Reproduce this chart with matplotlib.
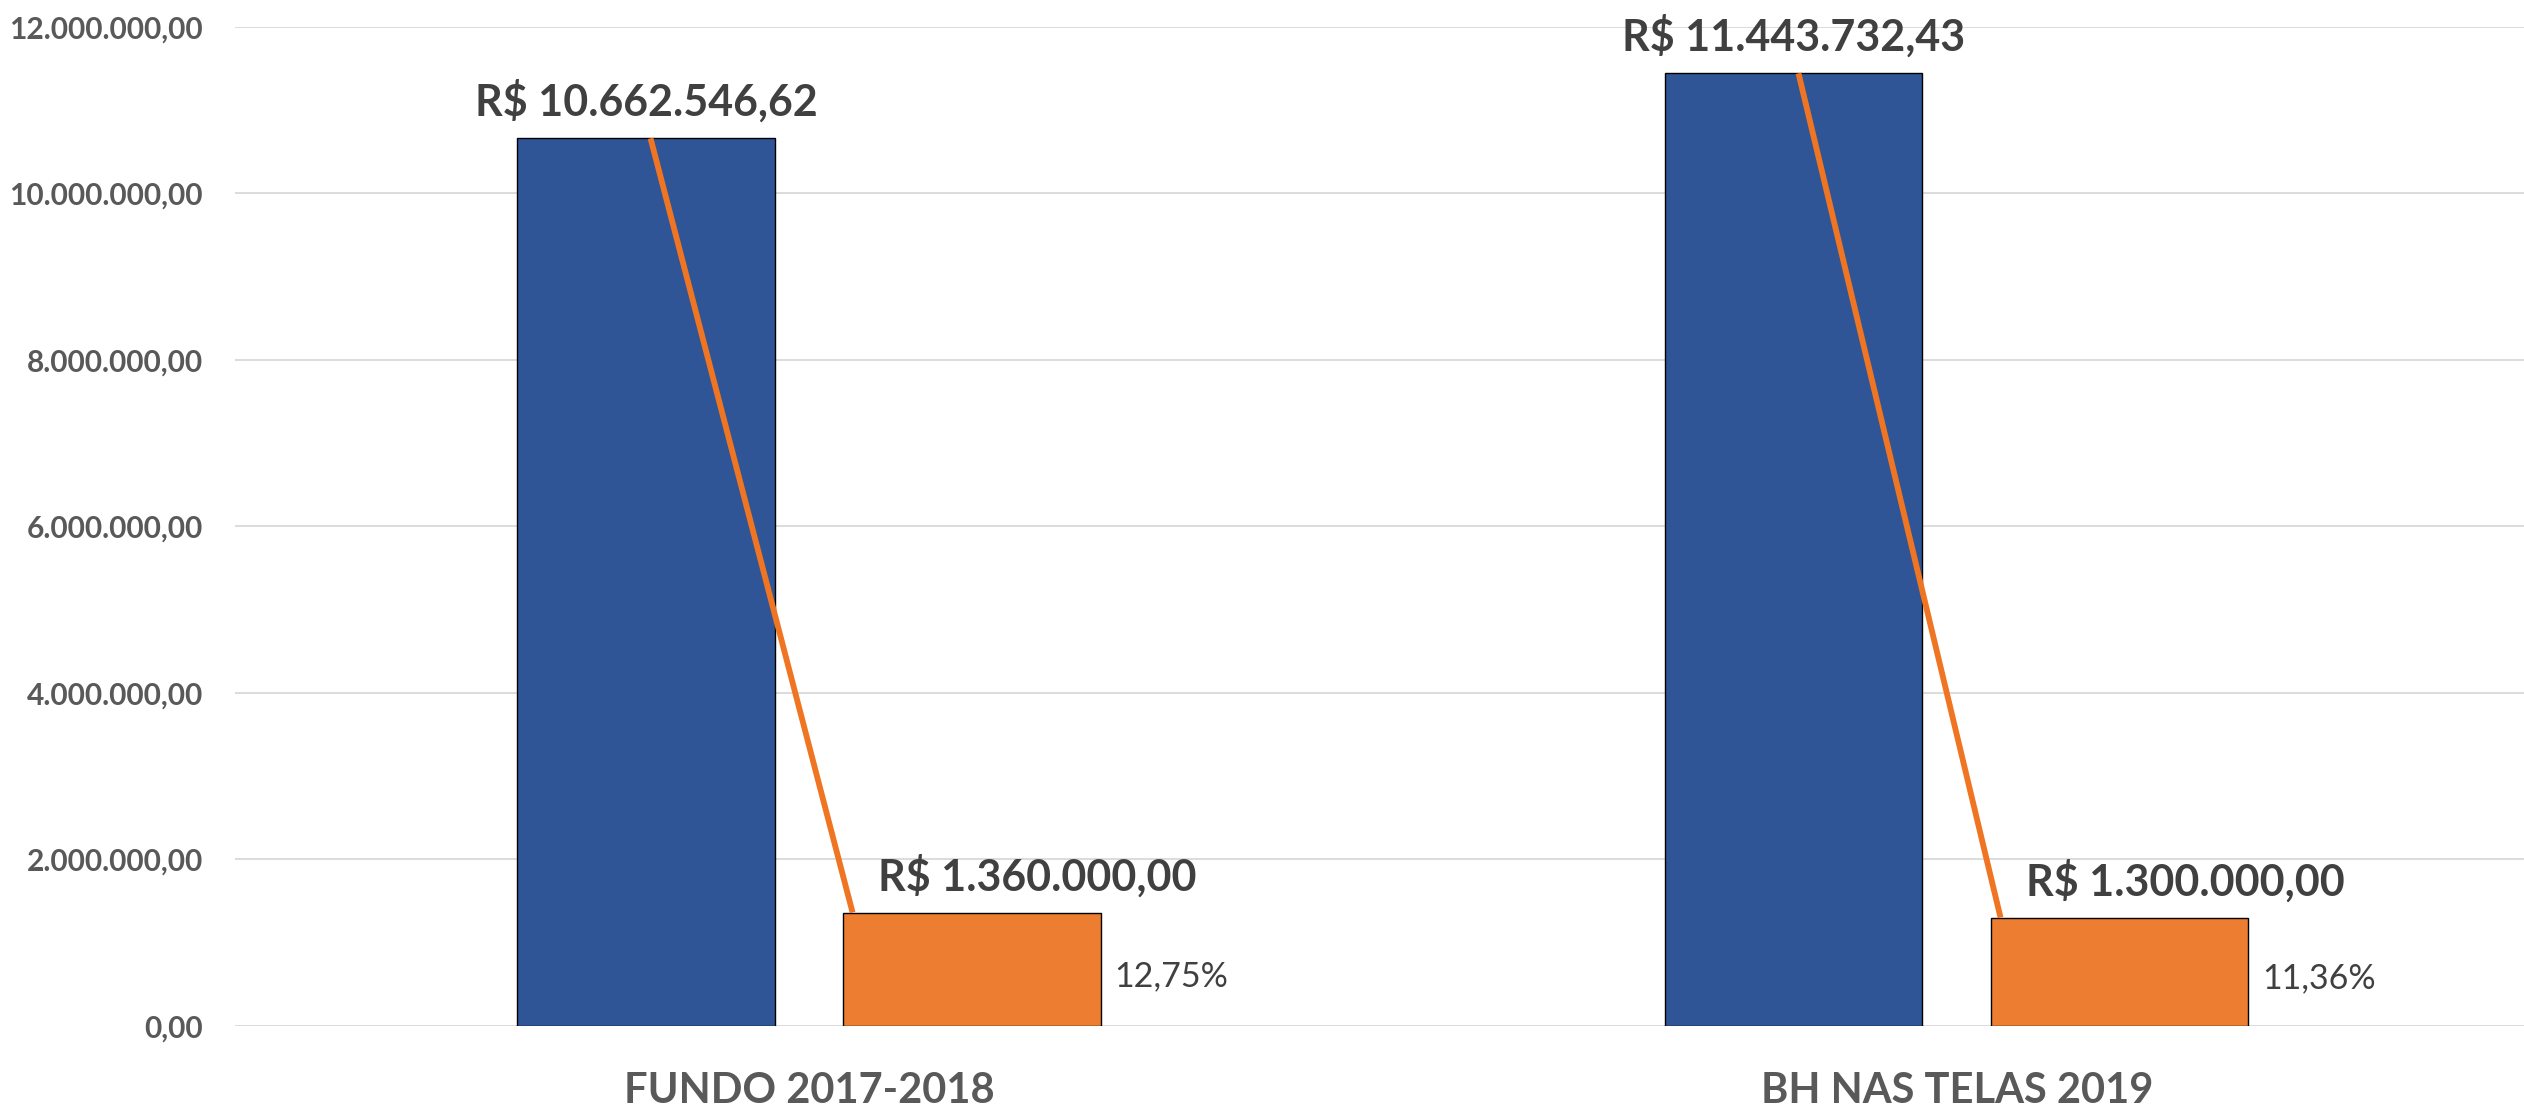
import numpy as np
import matplotlib.pyplot as plt
from matplotlib.ticker import FuncFormatter, MultipleLocator

plt.rcParams['font.family'] = ['Lato', 'DejaVu Sans']

categories = ['FUNDO 2017-2018', 'BH NAS TELAS 2019']
total = [10662546.62, 11443732.43]
parte = [1360000.00, 1300000.00]


def br(v, dec=2):
    s = '{:,.{}f}'.format(v, dec)
    return s.replace(',', 'X').replace('.', ',').replace('X', '.')


fig = plt.figure(figsize=(25.24, 11.07), dpi=100)
ax = fig.add_axes([0.0931, 0.0734, 0.9069, 0.9022])

x = np.arange(len(categories))
w = 0.224
off = 0.142

azul = '#2F5597'
laranja = '#ED7D31'

ax.bar(x - off, total, w, color=azul, edgecolor='black', linewidth=1.0, zorder=2)
ax.bar(x + off, parte, w, color=laranja, edgecolor='black', linewidth=1.0, zorder=2)

# linha ligando o total a parte de cada grupo
for i in range(len(categories)):
    ax.plot([x[i] - 0.138, x[i] + 0.038], [total[i], parte[i]],
            color='#F07522', lw=4.2, zorder=3, solid_capstyle='butt')

for i in range(len(categories)):
    ax.annotate('R$ ' + br(total[i]), (x[i] - off, total[i]), xytext=(0, 16),
                textcoords='offset points', ha='center', va='baseline',
                fontsize=31, fontweight='bold', color='#404040', annotation_clip=False)
    ax.annotate('R$ ' + br(parte[i]), (x[i] + off + 0.057, parte[i]), xytext=(0, 16),
                textcoords='offset points', ha='center', va='baseline',
                fontsize=31, fontweight='bold', color='#404040', annotation_clip=False)
    pct = parte[i] / total[i] * 100
    ax.annotate(br(pct) + '%', (x[i] + off + w / 2, parte[i] / 2), xytext=(10, -5),
                textcoords='offset points', ha='left', va='center',
                fontsize=24.5, color='#404040')

ax.set_xlim(-0.5, 1.494)
ax.set_ylim(0, 12000000)
ax.yaxis.set_major_locator(MultipleLocator(2000000))
ax.yaxis.set_major_formatter(FuncFormatter(lambda v, p: br(v)))
ax.grid(axis='y', color='#d9d9d9', lw=1.3, zorder=0)
ax.set_axisbelow(True)
for s in ax.spines.values():
    s.set_visible(False)

ax.set_xticks(x)
ax.set_xticklabels(categories)
ax.tick_params(axis='x', length=0, pad=33, labelsize=30, labelcolor='#595959')
ax.tick_params(axis='y', length=0, pad=23, labelsize=21.5, labelcolor='#595959')
for lab in ax.get_xticklabels() + ax.get_yticklabels():
    lab.set_fontweight('bold')

plt.savefig('out.png', dpi=100)
